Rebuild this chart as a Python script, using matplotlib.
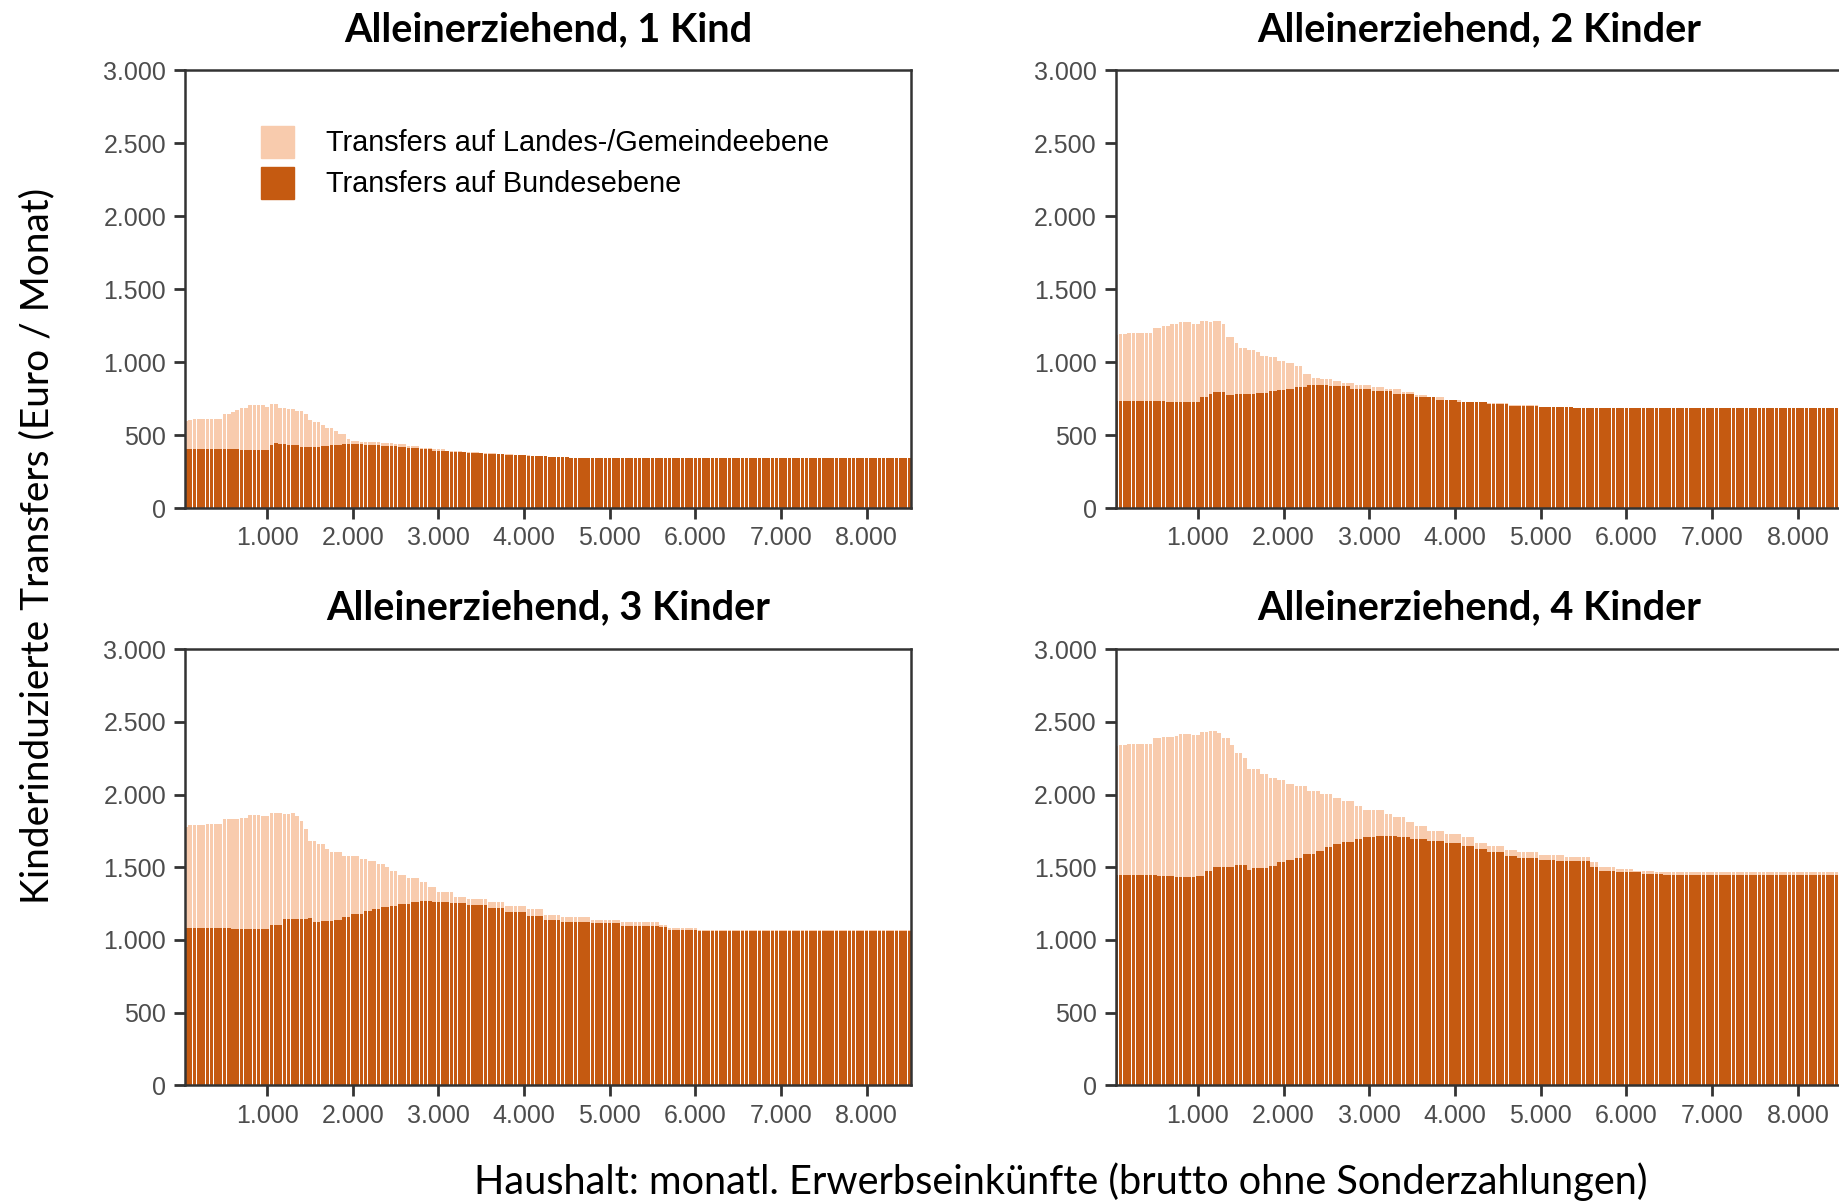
import numpy as np
import matplotlib.pyplot as plt
from matplotlib.patches import Patch
from matplotlib.ticker import FuncFormatter

# bar centres: monthly gross earnings in 50-euro steps
einkommen = np.arange(50, 8501, 50)

# values as (value, number of bars) runs
gesamt_1 = [(600, 1), (606, 1), (614, 7), (642, 2), (658, 1), (670, 1), (689, 2), (706, 4),
            (696, 1), (713, 2), (689, 2), (677, 2), (666, 2), (642, 1), (606, 1), (588, 2),
            (571, 1), (548, 2), (529, 1), (507, 2), (477, 1), (460, 2), (455, 3), (451, 2),
            (444, 3), (437, 3), (427, 3), (413, 3), (404, 3), (394, 4), (385, 4), (378, 4),
            (372, 4), (365, 4), (358, 4), (350, 4), (343, 81)]
bund_1 = [(406, 13), (399, 7), (430, 1), (446, 1), (437, 2), (432, 3), (422, 5), (427, 2),
          (432, 3), (439, 3), (437, 2), (432, 4), (427, 4), (422, 2), (413, 3), (404, 3),
          (394, 4), (385, 4), (375, 4), (368, 5), (362, 5), (355, 5), (348, 5), (343, 80)]

gesamt_2 = [(1188, 1), (1197, 2), (1202, 6), (1234, 2), (1246, 2), (1262, 2), (1275, 3),
            (1262, 2), (1282, 2), (1273, 1), (1282, 2), (1262, 1), (1175, 2), (1129, 1),
            (1101, 2), (1083, 2), (1067, 1), (1046, 2), (1037, 2), (1009, 2), (998, 2),
            (975, 2), (918, 2), (895, 2), (883, 3), (872, 2), (858, 3), (846, 4), (832, 3),
            (816, 4), (798, 3), (776, 3), (760, 4), (742, 4), (730, 6), (718, 5), (707, 7),
            (695, 8), (684, 63)]
bund_2 = [(734, 12), (727, 8), (762, 2), (780, 1), (796, 3), (773, 2), (780, 2), (785, 3),
          (791, 3), (803, 2), (807, 2), (819, 2), (830, 3), (846, 5), (837, 5), (820, 5),
          (803, 5), (785, 5), (760, 5), (738, 5), (725, 7), (712, 5), (702, 7), (690, 8),
          (684, 63)]

gesamt_3 = [(1780, 1), (1789, 4), (1796, 4), (1830, 4), (1837, 2), (1860, 3), (1853, 2),
            (1872, 3), (1865, 2), (1876, 1), (1853, 1), (1819, 1), (1762, 1), (1682, 2),
            (1659, 2), (1625, 1), (1602, 3), (1574, 4), (1556, 2), (1540, 2), (1522, 2),
            (1499, 1), (1471, 2), (1446, 2), (1423, 3), (1396, 2), (1361, 2), (1327, 4),
            (1297, 3), (1281, 5), (1258, 4), (1235, 5), (1213, 4), (1170, 4), (1155, 7),
            (1137, 7), (1121, 9), (1105, 2), (1082, 7), (1068, 50)]
bund_3 = [(1082, 11), (1073, 9), (1105, 3), (1142, 6), (1149, 1), (1121, 2), (1128, 3),
          (1140, 2), (1160, 2), (1178, 3), (1197, 2), (1213, 2), (1229, 2), (1235, 2),
          (1247, 3), (1258, 2), (1270, 3), (1263, 4), (1252, 4), (1240, 5), (1217, 4),
          (1190, 5), (1167, 4), (1140, 4), (1126, 7), (1117, 7), (1098, 9), (1087, 2),
          (1068, 7), (1059, 50)]

gesamt_4 = [(2334, 1), (2341, 2), (2350, 6), (2386, 2), (2396, 3), (2402, 1), (2414, 3),
            (2407, 2), (2430, 2), (2437, 2), (2425, 1), (2391, 2), (2341, 1), (2288, 2),
            (2249, 1), (2174, 3), (2139, 2), (2116, 2), (2098, 2), (2075, 2), (2059, 3),
            (2025, 3), (2002, 3), (1979, 2), (1956, 3), (1922, 2), (1892, 5), (1869, 2),
            (1842, 3), (1808, 2), (1785, 3), (1750, 4), (1727, 4), (1705, 3), (1670, 3),
            (1647, 4), (1618, 3), (1602, 5), (1586, 6), (1572, 6), (1533, 2), (1503, 4),
            (1487, 4), (1476, 5), (1464, 44)]
bund_4 = [(1446, 10), (1441, 4), (1430, 5), (1441, 2), (1476, 2), (1503, 5), (1515, 3),
          (1480, 1), (1492, 4), (1510, 2), (1533, 2), (1549, 2), (1563, 2), (1590, 3),
          (1613, 2), (1636, 2), (1659, 2), (1675, 3), (1693, 2), (1705, 3), (1716, 5),
          (1709, 3), (1693, 4), (1682, 4), (1666, 4), (1647, 3), (1625, 3), (1602, 4),
          (1579, 3), (1563, 5), (1551, 4), (1540, 8), (1503, 2), (1476, 4), (1464, 6),
          (1453, 5), (1446, 42)]

titel = ["Alleinerziehend, 1 Kind", "Alleinerziehend, 2 Kinder",
         "Alleinerziehend, 3 Kinder", "Alleinerziehend, 4 Kinder"]
panels = [(gesamt_1, bund_1), (gesamt_2, bund_2), (gesamt_3, bund_3), (gesamt_4, bund_4)]

DUNKEL = "#C55A11"
HELL = "#F8CBAD"
ACHSE = "#333333"


def expand(runs):
    return np.repeat([v for v, n in runs], [n for v, n in runs])


fig = plt.figure(figsize=(18.4, 12.03), dpi=100)

# axes rectangles in figure fractions (right column is cut by the image edge)
boxes = [(0.1008, 0.5776, 0.3941, 0.3638), (0.6065, 0.5776, 0.3946, 0.3638),
         (0.1008, 0.0977, 0.3941, 0.3628), (0.6065, 0.0977, 0.3946, 0.3628)]

fmt = FuncFormatter(lambda v, p: f"{int(v):,}".replace(",", "."))

for k, ((ges, bun), box) in enumerate(zip(panels, boxes)):
    ax = fig.add_axes(box)
    gesamt = expand(ges)
    bund = expand(bun)
    land = np.clip(gesamt - bund, 0, None)
    ax.bar(einkommen, bund, width=42, color=DUNKEL, linewidth=0)
    ax.bar(einkommen, land, bottom=bund, width=42, color=HELL, linewidth=0)

    ax.set_xlim(45, 8515)
    ax.set_ylim(0, 3000)
    ax.set_xticks(range(1000, 8001, 1000))
    ax.set_yticks(range(0, 3001, 500))
    ax.xaxis.set_major_formatter(fmt)
    ax.yaxis.set_major_formatter(fmt)
    for s in ax.spines.values():
        s.set_color(ACHSE)
        s.set_linewidth(1.8)
    ax.tick_params(axis="both", color=ACHSE, width=2, length=8,
                   labelcolor="#4D4D4D", labelsize=18, labelfontfamily="Liberation Sans")
    ax.tick_params(axis="x", pad=5)
    ax.tick_params(axis="y", pad=6)

    ax.text(0.5, 1 + 41 / 437.7, titel[k], transform=ax.transAxes, ha="center", va="center",
            fontsize=28.5, fontweight="bold", family="Lato")

    if k == 0:
        handles = [Patch(color=HELL, label="Transfers auf Landes-/Gemeindeebene"),
                   Patch(color=DUNKEL, label="Transfers auf Bundesebene")]
        ax.legend(handles=handles, loc="upper left", bbox_to_anchor=(0.1036, 0.874),
                  frameon=False, borderpad=0, borderaxespad=0,
                  prop={"family": "Liberation Sans", "size": 20.8},
                  handlelength=1.15, handleheight=1.34, handletextpad=1.1,
                  labelspacing=0.3)

fig.text(0.0204, 0.546, "Kinderinduzierte Transfers (Euro / Monat)", rotation=90,
         ha="center", va="center", fontsize=28, family="Lato")
fig.text(0.5766, 1 - 1182 / 1203, "Haushalt: monatl. Erwerbseinkünfte (brutto ohne Sonderzahlungen)",
         ha="center", va="center", fontsize=28.6, family="Lato")

plt.savefig("out.png", dpi=100)
